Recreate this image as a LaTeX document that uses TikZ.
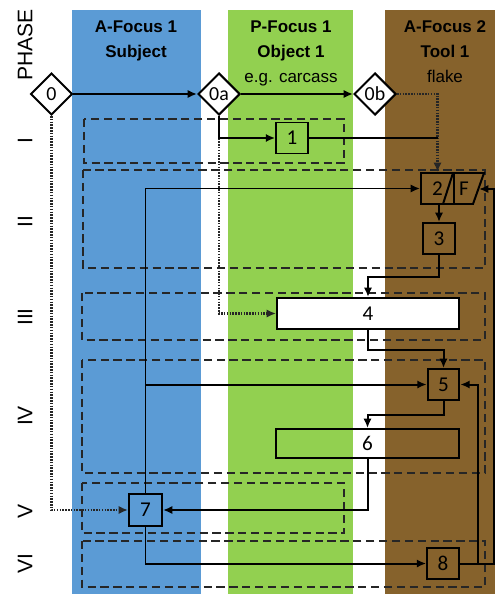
\documentclass[tikz,border=0pt]{standalone}
\usepackage{fontspec}
\setmainfont{Liberation Sans}
\newfontfamily\numfont{Carlito}
\usetikzlibrary{arrows.meta,shapes.geometric}

\definecolor{subjblue}{RGB}{91,155,213}
\definecolor{objgreen}{RGB}{146,208,80}
\definecolor{toolbrown}{RGB}{134,98,44}

\begin{document}
\begin{tikzpicture}[x=0.03cm, y=-0.03cm, line width=1.7pt,
  box/.style={draw, inner sep=0pt, minimum width=0.95cm, minimum height=0.93cm,
    font=\numfont\fontsize{18}{18}\selectfont},
  gate/.style={diamond, draw, aspect=1, inner sep=0pt, minimum size=1.26cm, fill=white,
    font=\numfont\fontsize{17}{17}\selectfont},
  flow/.style={-{Latex[length=8pt,width=7pt]}},
  ptr/.style={dash pattern=on 1.3pt off 1.1pt, line width=1.9pt, draw=black!85},
  phasebox/.style={dash pattern=on 7pt off 4pt, draw=black!85},
  head/.style={anchor=base, font=\fontsize{14.5}{16}\selectfont},
  phase/.style={rotate=90, font=\fontsize{18}{18}\selectfont}]
  \useasboundingbox (0,0) rectangle (495,594);

  % focus columns
  \fill[subjblue] (72,10) rectangle (201,594);
  \fill[objgreen] (228,10) rectangle (353,594);
  \fill[toolbrown] (385,10) rectangle (495,594);

  \node[head, font=\fontsize{14.5}{16}\selectfont\bfseries] (subj1) at (136,33) {A-Focus 1};
  \node[head, font=\fontsize{14.5}{16}\selectfont\bfseries] (subj2) at (136,58) {Subject};
  \node[head, font=\fontsize{14.5}{16}\selectfont\bfseries] (obj1) at (291,33) {P-Focus 1};
  \node[head, font=\fontsize{14.5}{16}\selectfont\bfseries] (obj2) at (291,58) {Object 1};
  \node[head] (obj3) at (291,83) {e.g. carcass};
  \node[head, font=\fontsize{14.5}{16}\selectfont\bfseries] (tool1) at (445,33) {A-Focus 2};
  \node[head, font=\fontsize{14.5}{16}\selectfont\bfseries] (tool2) at (445,58) {Tool 1};
  \node[head] (tool3) at (445,83) {flake};

  % phases
  \node[phase] (phase) at (25,45) {PHASE};
  \node[phase] (p1) at (25,141) {I};
  \node[phase] (p2) at (25,222) {II};
  \node[phase] (p3) at (25,317) {III};
  \node[phase] (p4) at (25,416) {IV};
  \node[phase] (p5) at (25,511) {V};
  \node[phase] (p6) at (25,564) {VI};

  \draw[phasebox] (84,119) rectangle (344,163);
  \draw[phasebox] (83,170) rectangle (485,268);
  \draw[phasebox] (82,293) rectangle (485,340);
  \draw[phasebox] (82,360) rectangle (485,473);
  \draw[phasebox] (82,483) rectangle (344,533);
  \draw[phasebox] (82,541) rectangle (485,587);

  % steps
  \node[gate] (0) at (51.5,94) {0};
  \node[gate] (0a) at (219,94) {0a};
  \node[gate] (0b) at (375,94) {0b};
  \node[box] (1) at (292,138) {1};
  \node[box, minimum width=0.99cm] (2) at (437.5,188.5) {2};
  \coordinate (F-bl) at (443,204);
  \coordinate (F-tl) at (453,173);
  \coordinate (F-tr) at (484,173);
  \coordinate (F-br) at (473,204);
  \draw (F-bl) -- (F-tl) -- (F-tr) -- (F-br) -- cycle;
  \node[font=\numfont\fontsize{18}{18}\selectfont] (F) at (464,189) {F};
  \coordinate (F-in) at (479,189);
  \node[box] (3) at (439,238.5) {3};
  \node[box, fill=white, minimum width=5.46cm] (4) at (368,313.5) {4};
  \node[box] (5) at (443.5,384.5) {5};
  \node[box, minimum width=5.49cm, minimum height=0.87cm] (6) at (367.5,443.5) {6};
  \node[box, minimum width=0.99cm, minimum height=0.96cm] (7) at (145.5,510) {7};
  \node[box] (8) at (443,563.5) {8};

  % dotted links
  \draw[ptr, flow] (0b.east) -| (2.north);
  \draw[ptr, flow] (0.south) |- (7.west);
  \draw[ptr, flow] (0a.south) |- (4.west);

  % flow
  \draw[flow] (0) -- (0a);
  \draw[flow] (0a) -- (0b);
  \draw[flow] (0a.south) |- (1.west);
  \draw[line width=1.1pt] (1.east) -- (1.east -| 2.north);
  \draw[flow] (7.north) |- (2.west);
  \draw[flow] (7.north) |- (5.west);
  \draw[flow] (3.north |- 2.south) -- (3.north);
  \draw[flow] (3.south) -- ++(0,22) -| (4.north);
  \draw[flow] (4.south) -- ++(0,20) -| (5.north);
  \draw[flow] (5.south) -- ++(0,14) -| (6.north);
  \draw[flow] (6.south) |- (7.east);
  \draw[flow] (7.south) |- (8.west);
  \draw[flow] (8.east) -- ++(18,0) |- (5.east);
  \draw[flow] (8.east) -- ++(34,0) |- (F-in);
\end{tikzpicture}
\end{document}
